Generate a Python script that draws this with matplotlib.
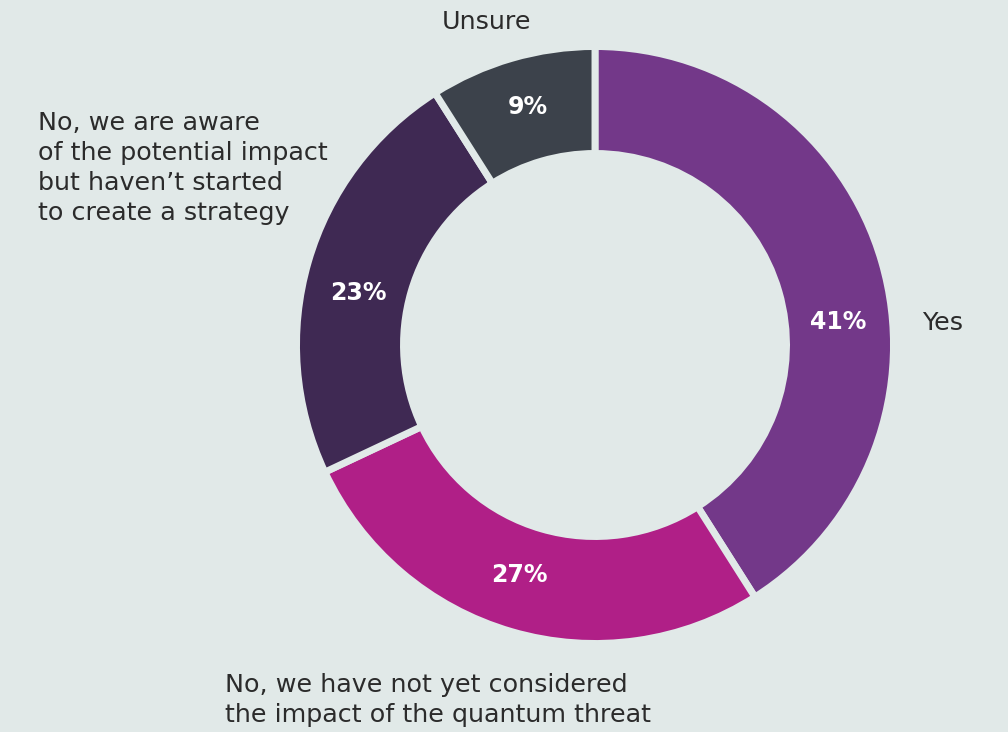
import matplotlib
matplotlib.use("Agg")
import matplotlib.pyplot as plt

categories = ["Yes",
              "No, we have not yet considered\nthe impact of the quantum threat",
              "No, we are aware\nof the potential impact\nbut haven\u2019t started\nto create a strategy",
              "Unsure"]
values = [41, 27, 23, 9]
pct_labels = ["41%", "27%", "23%", "9%"]
colors = ["#733889", "#b01f87", "#3f2953", "#3c424b"]

BG = "#e1e9e8"
W, H = 1008, 732
fig = plt.figure(figsize=(W / 100, H / 100), dpi=100, facecolor=BG)
ax = fig.add_axes([0, 0, 1, 1])
ax.set_facecolor(BG)

cx, cy = 595, H - 345
wedges, _ = ax.pie(values, colors=colors, startangle=90, counterclock=False,
                   center=(cx, cy), radius=298.5, frame=True,
                   wedgeprops=dict(width=107, edgecolor=BG, linewidth=5))
ax.set_xlim(0, W)
ax.set_ylim(0, H)
ax.set_aspect("equal")
ax.axis("off")

font = "DejaVu Sans"
txt = "#2b2b2b"
# percentage labels (pixel positions of text centres)
pct_pos = [(838, 322), (519, 575), (358, 293), (528, 107)]
for lab, (x, y) in zip(pct_labels, pct_pos):
    ax.text(x, H - y, lab, ha="center", va="center", color="white",
            fontsize=17, fontweight="bold", family=font)

# category labels
fs = 18.3
ax.text(922, H - 323, categories[0], ha="left", va="center", color=txt,
        fontsize=fs, family=font)
ax.text(225, H - 700, categories[1], ha="left", va="center", color=txt,
        fontsize=fs, family=font, linespacing=1.3)
ax.text(38, H - 168, categories[2], ha="left", va="center", color=txt,
        fontsize=fs, family=font, linespacing=1.3)
ax.text(486, H - 22, categories[3], ha="center", va="center", color=txt,
        fontsize=fs, family=font)

fig.savefig("out.png", dpi=100, facecolor=BG)
